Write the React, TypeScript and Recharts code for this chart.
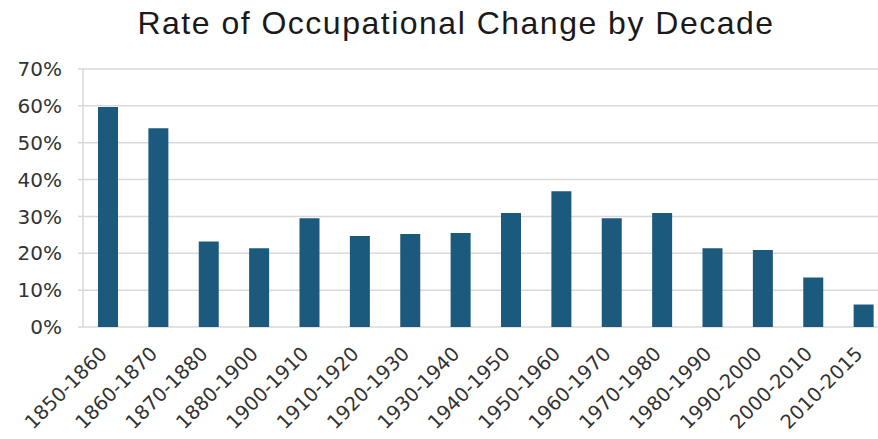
import React from 'react';
import { BarChart, Bar, XAxis, YAxis, CartesianGrid } from 'recharts';

// ─── Rate of Occupational Change by Decade ─────────────────────
// Excel-style column chart, plot area cut off on the right edge.

const DECADES = [
  '1850-1860', '1860-1870', '1870-1880', '1880-1900', '1900-1910', '1910-1920',
  '1920-1930', '1930-1940', '1940-1950', '1950-1960', '1960-1970', '1970-1980',
  '1980-1990', '1990-2000', '2000-2010', '2010-2015',
];
const RATES = [59.7, 53.9, 23.2, 21.4, 29.5, 24.7, 25.2, 25.5, 30.9, 36.8, 29.5, 30.9, 21.4, 20.9, 13.4, 6.1];
const Y_TICKS = [0, 10, 20, 30, 40, 50, 60, 70];
const SLOTS = Array.from({ length: DECADES.length + 1 }, (_, i) => i);

const data = DECADES.map((decade, i) => ({ decade, rate: RATES[i], slot: i + 0.5 }));

const BAR = '#1c5a7d';
const GRID = '#d9d9d9';
const TEXT = '#333333';
const FONT = '"DejaVu Sans", Verdana, sans-serif';

function DecadeTick(props: any) {
  const { x, y, payload } = props;
  return (
    <text
      x={0}
      y={0}
      transform={`translate(${x}, ${y + 20}) rotate(-45)`}
      textAnchor="end"
      fill={TEXT}
      fontSize={19.5}
      fontFamily={FONT}
    >
      {payload.value}
    </text>
  );
}

export default function App() {
  return (
    <div style={{ position: 'absolute', left: 0, top: 0, width: 878, height: 439, overflow: 'hidden', background: '#fff' }}>
      <div
        style={{
          position: 'absolute',
          left: 0,
          width: 912,
          top: 5,
          textAlign: 'center',
          whiteSpace: 'nowrap',
          fontFamily: '"Liberation Sans", Arial, sans-serif',
          fontSize: 32,
          letterSpacing: 1.5,
          color: '#1a1a1a',
        }}
      >
        Rate of Occupational Change by Decade
      </div>
      <div style={{ position: 'absolute', left: 0, top: 0 }}>
        <BarChart
          width={889}
          height={439}
          data={data}
          margin={{ top: 69, right: 0, bottom: 0, left: 0 }}
          barSize={20}
        >
          <CartesianGrid vertical={false} stroke={GRID} strokeWidth={1.5} />
          <XAxis
            xAxisId="slots"
            type="number"
            dataKey="slot"
            domain={[0, DECADES.length]}
            ticks={SLOTS}
            tick={false}
            height={0}
            axisLine={{ stroke: GRID, strokeWidth: 1.5 }}
            tickLine={{ stroke: GRID, strokeWidth: 1.5 }}
            tickSize={6}
          />
          <XAxis
            dataKey="decade"
            interval={0}
            height={112}
            axisLine={false}
            tickLine={false}
            tick={<DecadeTick />}
          />
          <YAxis
            width={83}
            domain={[0, 70]}
            ticks={Y_TICKS}
            tickFormatter={(v) => `${v}%`}
            axisLine={{ stroke: GRID, strokeWidth: 1.5 }}
            tickLine={{ stroke: GRID, strokeWidth: 1.5 }}
            tickSize={5}
            tickMargin={16}
            tick={{ fill: TEXT, fontSize: 20, fontFamily: FONT }}
          />
          <Bar dataKey="rate" fill={BAR} isAnimationActive={false} />
        </BarChart>
      </div>
    </div>
  );
}
